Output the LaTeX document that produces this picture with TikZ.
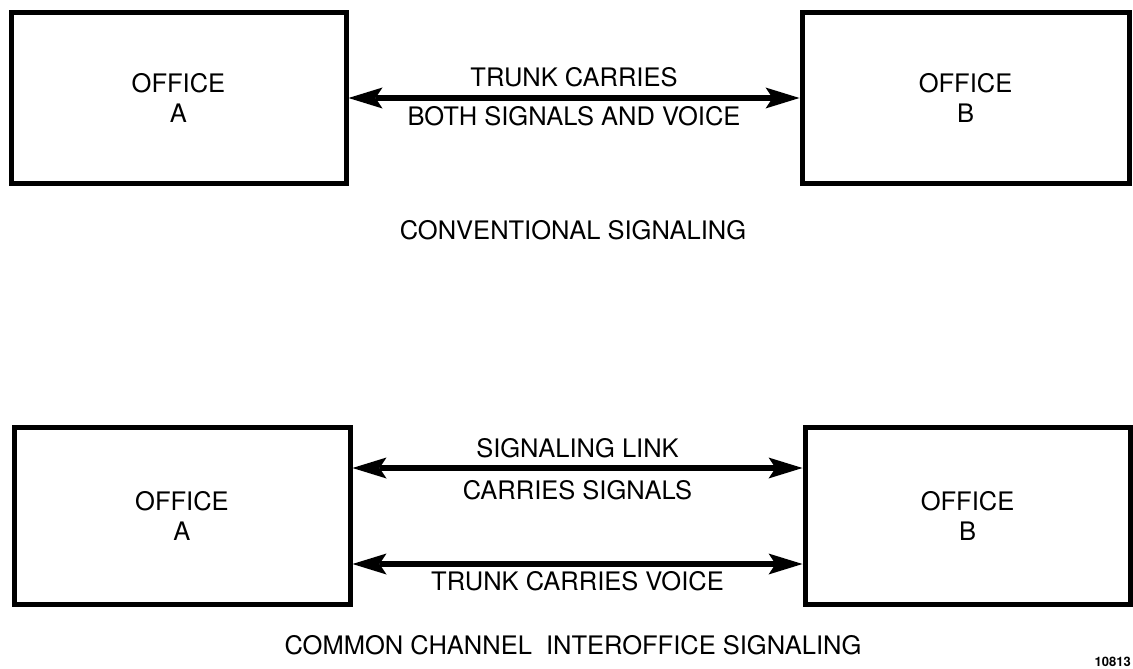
\documentclass[tikz,border=0pt]{standalone}
\usepackage{fontspec}
\setmainfont{TeX Gyre Heros}
\usetikzlibrary{arrows.meta}

\tikzset{
    office/.style={draw, line width=5pt, inner sep=0pt, align=center,
        font=\fontsize{25.5}{30}\selectfont},
    link/.style={line width=5.5pt, {Stealth[length=34pt, width=21pt, inset=7pt, line width=0pt]}-{Stealth[length=34pt, width=21pt, inset=7pt, line width=0pt]}},
    lbl/.style={inner sep=0pt, font=\fontsize{25.5}{30}\selectfont}
}

\begin{document}
\begin{tikzpicture}[x=1pt, y=-1pt]
    \useasboundingbox (0,0) rectangle (1133,669);

    % Conventional signaling
    \node[office, minimum width=335pt, minimum height=170pt] (convA) at (178.5,98) {OFFICE\\A};
    \node[office, minimum width=327pt, minimum height=170pt] (convB) at (965.5,98) {OFFICE\\B};
    \draw[link] (convA.east) -- (convB.west)
        node[lbl, midway, above=8pt] (trunkTop) {TRUNK CARRIES}
        node[lbl, midway, below=6pt] (trunkBot) {BOTH SIGNALS AND VOICE};
    \node[lbl] (capConv) at (573,230) {CONVENTIONAL SIGNALING};

    % Common channel interoffice signaling
    \node[office, minimum width=336pt, minimum height=177pt] (ccisA) at (182,516) {OFFICE\\A};
    \node[office, minimum width=325pt, minimum height=177pt] (ccisB) at (967.5,516) {OFFICE\\B};
    \draw[link] ([yshift=48pt]ccisA.east) -- ([yshift=48pt]ccisB.west)
        node[lbl, midway, above=7pt] (sigTop) {SIGNALING LINK}
        node[lbl, midway, below=10pt] (sigBot) {CARRIES SIGNALS};
    \draw[link] ([yshift=-48pt]ccisA.east) -- ([yshift=-48pt]ccisB.west)
        node[lbl, midway, below=5pt] (voiceBot) {TRUNK CARRIES VOICE};
    \node[lbl] (capCcis) at (573,645) {COMMON CHANNEL\ \ INTEROFFICE SIGNALING};

    % figure number
    \node[inner sep=0pt, anchor=east, font=\fontsize{13}{15}\selectfont\bfseries] (figNo) at (1131,662) {10813};
\end{tikzpicture}
\end{document}
